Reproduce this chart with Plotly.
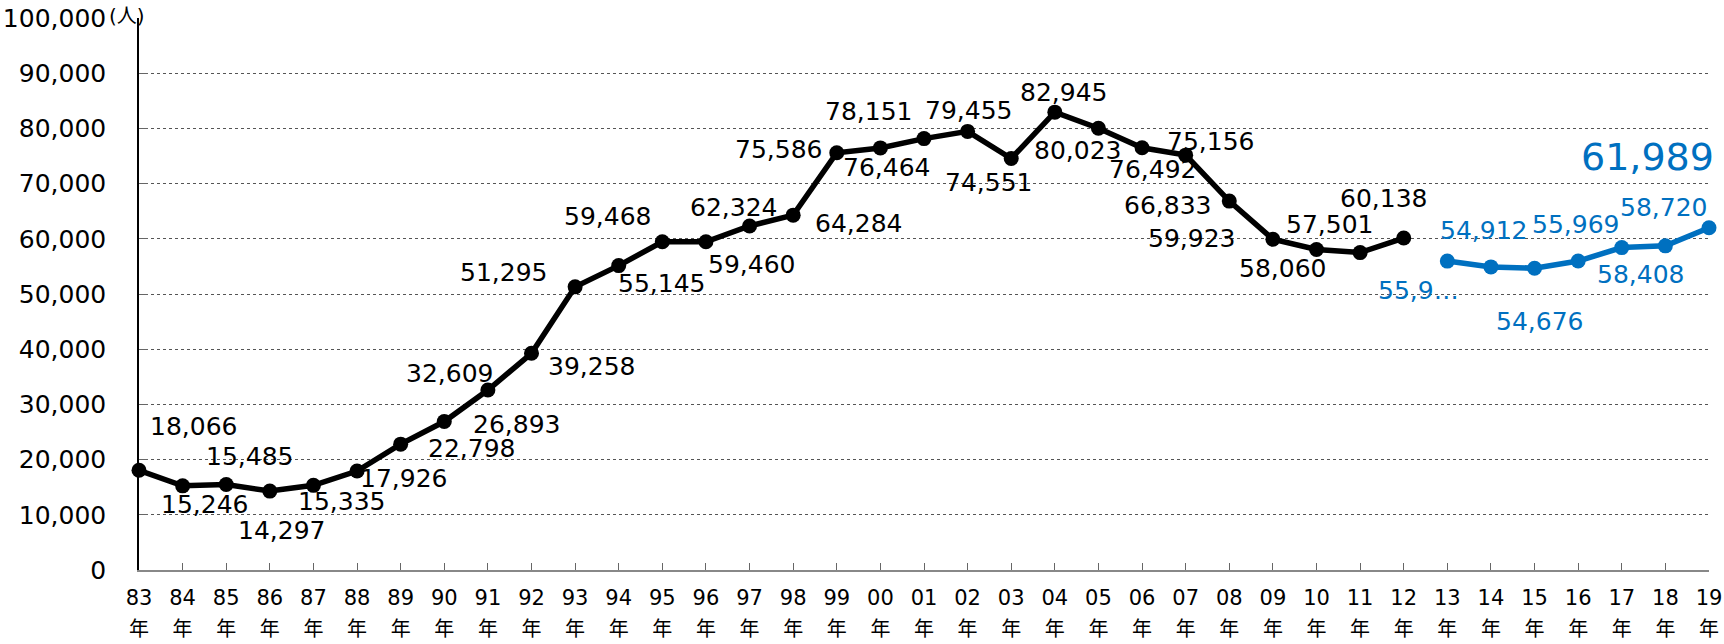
import plotly.graph_objects as go

years = ["83","84","85","86","87","88","89","90","91","92","93","94","95","96","97","98","99",
         "00","01","02","03","04","05","06","07","08","09","10","11","12",
         "13","14","15","16","17","18","19"]
black_years = years[:30]
black_vals = [18066,15246,15485,14297,15335,17926,22798,26893,32609,39258,51295,55145,59468,59460,
              62324,64284,75586,76464,78151,79455,74551,82945,80023,76492,75156,66833,59923,58060,57501,60138]
blue_years = years[30:]
blue_vals = [55960,54912,54676,55969,58408,58720,61989]
blue_labels = ["55,9…","54,912","54,676","55,969","58,408","58,720","61,989"]

# label offsets (px) relative to each point: (dx, dy_down)
black_off = [(54,-44),(22,19),(23,-28),(12,39),(28,16),(46,7),(71,4),(72,3),(-38,-17),(60,13),
             (-72,-14),(43,18),(-55,-25),(46,23),(-16,-18),(65,8),(-58,-3),(6,20),(-56,-27),(1,-21),
             (-23,24),(9,-20),(-21,22),(10,22),(25,-14),(-62,4),(-81,-1),(-34,19),(-31,-28),(-20,-40)]
blue_off = [(-29,29),(-7,-36),(5,53),(-3,-37),(19,27),(-2,-38),(-62,-71)]

FONT = "DejaVu Sans, Noto Sans CJK JP, sans-serif"
BLUE = "#0070C0"

pos = {y: i for i, y in enumerate(years)}
bx = [pos[y] for y in black_years]
ux = [pos[y] for y in blue_years]

fig = go.Figure()
fig.add_trace(go.Scatter(x=bx, y=black_vals, mode="lines+markers",
                         line=dict(color="black", width=5.5), marker=dict(size=15, color="black"),
                         cliponaxis=False, showlegend=False))
fig.add_trace(go.Scatter(x=ux, y=blue_vals, mode="lines+markers",
                         line=dict(color=BLUE, width=5.5), marker=dict(size=15, color=BLUE),
                         cliponaxis=False, showlegend=False))

anns = []
for x, v, (dx, dy) in zip(bx, black_vals, black_off):
    anns.append(dict(x=x, y=v, text=f"{v:,}", showarrow=False, xshift=dx, yshift=-dy,
                     font=dict(size=25, color="black", family=FONT)))
for i, (x, v, t, (dx, dy)) in enumerate(zip(ux, blue_vals, blue_labels, blue_off)):
    size = 38 if i == len(blue_vals) - 1 else 25
    anns.append(dict(x=x, y=v, text=t, showarrow=False, xshift=dx, yshift=-dy,
                     font=dict(size=size, color=BLUE, family=FONT)))
anns.append(dict(xref="paper", yref="paper", x=0, y=1, text="(人)", showarrow=False,
                 xanchor="right", yanchor="middle", xshift=8, yshift=2,
                 font=dict(size=20, color="black", family=FONT)))

ticktext = [f"<span style='font-size:21px'>{y}</span><br><span style='font-size:20px'>年</span>" for y in years]

fig.update_layout(
    width=1724, height=644,
    margin=dict(l=139, r=15, t=18, b=74),
    paper_bgcolor="white", plot_bgcolor="white",
    font=dict(family=FONT, color="black"),
    annotations=anns,
    xaxis=dict(range=[0, 36], tickmode="array", tickvals=list(range(len(years))), ticktext=ticktext,
               tickfont=dict(size=24, family=FONT, color="black"),
               showline=True, linecolor="#888888", linewidth=2,
               ticks="inside", ticklen=7, tickcolor="#666666", tickwidth=1,
               showgrid=False, zeroline=False, ticklabelstandoff=4, automargin=False),
    yaxis=dict(range=[0, 100000], dtick=10000, tickformat=",",
               tickfont=dict(size=25, family=FONT, color="black"),
               showline=True, linecolor="black", linewidth=1.5,
               ticks="inside", ticklen=9, tickcolor="#666666",
               showgrid=True, gridcolor="#555555", griddash="dot", gridwidth=1,
               zeroline=False, ticklabelstandoff=26, automargin=False),
)

fig.write_html("out.html", config={"displayModeBar": False},
               post_script="document.body.style.margin='0';document.body.style.overflow='hidden';")
